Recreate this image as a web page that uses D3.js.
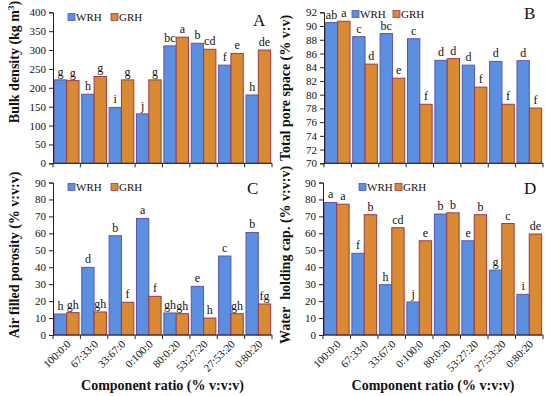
<!DOCTYPE html>
<html><head><meta charset="utf-8">
<script src="https://cdn.jsdelivr.net/npm/d3@7"></script>
<style>body{margin:0;background:#fff}svg{display:block}</style>
</head><body>
<script>
const categories = ["100:0:0","67:33:0","33:67:0","0:100:0","80:0:20","53:27:20","27:53:20","0:80:20"];
const seriesNames = ["WRH","GRH"];

const bulkWRH = [221,183,148,131,311,318,260,181];
const bulkGRH = [219,230,221,221,334,302,291,300];
const bulkLetWRH = ["g","h","i","j","bc","b","f","h"];
const bulkLetGRH = ["g","g","g","g","a","cd","e","de"];

const poreWRH = [90.5,88.45,88.9,88.15,85.0,84.3,84.85,84.95];
const poreGRH = [90.7,84.45,82.4,78.6,85.25,81.1,78.6,78.05];
const poreLetWRH = ["ab","c","bc","c","d","d","d","d"];
const poreLetGRH = ["a","d","e","f","d","f","f","f"];

const airWRH = [12.4,39.9,58.6,68.8,13.0,28.7,46.6,60.5];
const airGRH = [13.2,13.6,19.3,22.8,12.6,10.0,12.6,18.3];
const airLetWRH = ["h","d","b","a","gh","e","c","b"];
const airLetGRH = ["gh","gh","f","f","gh","h","gh","fg"];

const whcWRH = [78.2,48.2,29.7,19.5,71.4,55.6,38.3,24.0];
const whcGRH = [77.2,71.0,63.3,55.6,72.1,71.0,65.8,59.6];
const whcLetWRH = ["a","f","h","j","b","e","g","i"];
const whcLetGRH = ["a","b","cd","e","b","b","c","de"];

const bulkTicks = [0,50,100,150,200,250,300,350,400];
const poreTicks = [70,72,74,76,78,80,82,84,86,88,90,92];
const pctTicks = [0,10,20,30,40,50,60,70,80,90];

const FONT = "'Liberation Serif', 'DejaVu Serif', serif";
const colors = {WRH:{fill:"#5b8fe0",stroke:"#5a55b0"}, GRH:{fill:"#d98a32",stroke:"#9a3a4a"}};

const svg = d3.select("body").append("svg").attr("width",550).attr("height",396)
  .attr("font-family",FONT);

function panel(cfg){
  const {x0,x1,y0,y1,domain,ticks,wrh,grh,lw,lg,letter,letterPos,title,titleX,titleY,legendX,legendDX,legendY,showX} = cfg;
  const g = svg.append("g");
  const x = d3.scaleBand().domain(categories).range([x0,x1]).paddingInner(0.1).paddingOuter(0.05);
  const xs = d3.scaleBand().domain(seriesNames).range([0,x.bandwidth()]);
  const y = d3.scaleLinear().domain(domain).range([y1,y0]);

  const data = categories.map((c,i)=>({c, vals:[{s:"WRH",v:wrh[i],l:lw[i]},{s:"GRH",v:grh[i],l:lg[i]}]}));
  const grp = g.selectAll("g.grp").data(data).join("g").attr("transform",d=>`translate(${x(d.c)},0)`);
  grp.selectAll("rect").data(d=>d.vals).join("rect")
    .attr("x",d=>xs(d.s)).attr("width",xs.bandwidth())
    .attr("y",d=>y(d.v)).attr("height",d=>y(domain[0])-y(d.v))
    .attr("fill",d=>colors[d.s].fill).attr("stroke",d=>colors[d.s].stroke).attr("stroke-width",1);
  grp.selectAll("text").data(d=>d.vals).join("text")
    .attr("x",d=>xs(d.s)+xs.bandwidth()/2).attr("y",d=>y(d.v)-4)
    .attr("text-anchor","middle").attr("font-size",12).attr("fill","#111").text(d=>d.l);

  const ya = d3.axisLeft(y).tickValues(ticks).tickSize(4).tickPadding(3);
  const yg = g.append("g").attr("transform",`translate(${x0},0)`).call(ya);
  yg.attr("font-family",FONT);
  yg.select(".domain").attr("stroke","#222");
  yg.selectAll("line").attr("stroke","#222");
  yg.selectAll("text").attr("font-size",11).attr("fill","#111");

  g.append("line").attr("x1",x0).attr("x2",x1).attr("y1",y1).attr("y2",y1).attr("stroke","#222");
  const bounds = d3.range(categories.length+1).map(i=>x0 + (x1-x0)*i/categories.length);
  g.selectAll("line.bt").data(bounds).join("line").attr("class","bt")
    .attr("x1",d=>d).attr("x2",d=>d).attr("y1",y1).attr("y2",y1+4).attr("stroke","#222");

  if(showX){
    g.selectAll("text.xl").data(categories).join("text").attr("class","xl")
      .attr("transform",d=>`translate(${x(d)+x.bandwidth()/2+2},${y1+7}) rotate(-45)`)
      .attr("text-anchor","end").attr("dy","0.35em").attr("font-size",11).attr("fill","#111").text(d=>d);
    g.append("text").attr("x",(x0+x1)/2).attr("y",390).attr("text-anchor","middle")
      .attr("font-size",14).attr("font-weight","bold").attr("fill","#111").text("Component ratio (% v:v:v)");
  }

  g.append("text").attr("transform",`translate(${titleX},${titleY}) rotate(-90)`)
    .attr("text-anchor","middle").attr("dy","0.35em").attr("font-size",14).attr("font-weight","bold")
    .attr("fill","#111").html(title);

  seriesNames.forEach((s,i)=>{
    const lx = legendX + i*legendDX;
    g.append("rect").attr("x",lx).attr("y",legendY-3.5).attr("width",7).attr("height",7)
      .attr("fill",colors[s].fill).attr("stroke",colors[s].stroke).attr("stroke-width",0.8);
    g.append("text").attr("x",lx+8).attr("y",legendY).attr("dy","0.35em").attr("font-size",11).attr("fill","#111").text(s);
  });

  g.append("text").attr("x",letterPos[0]).attr("y",letterPos[1]).attr("font-size",17).attr("fill","#111").text(letter);
}

panel({x0:53,x1:272,y0:12.3,y1:163.3,domain:[0,400],ticks:bulkTicks,wrh:bulkWRH,grh:bulkGRH,lw:bulkLetWRH,lg:bulkLetGRH,
  letter:"A",letterPos:[253,26],title:'Bulk density (kg m<tspan baseline-shift="super" font-size="9">3</tspan>)',titleX:14,titleY:62,
  legendX:68,legendDX:43,legendY:17,showX:false});
panel({x0:324,x1:543,y0:12.3,y1:163.3,domain:[70,92],ticks:poreTicks,wrh:poreWRH,grh:poreGRH,lw:poreLetWRH,lg:poreLetGRH,
  letter:"B",letterPos:[524,19],title:"Total pore space (% v:v)",titleX:285,titleY:88,
  legendX:352,legendDX:41,legendY:14,showX:false});
panel({x0:53,x1:272,y0:182.5,y1:335,domain:[0,90],ticks:pctTicks,wrh:airWRH,grh:airGRH,lw:airLetWRH,lg:airLetGRH,
  letter:"C",letterPos:[247,194],title:"Air filled porosity (% v:v:v)",titleX:14,titleY:255,
  legendX:68,legendDX:43,legendY:187,showX:true});
panel({x0:323,x1:543,y0:182.5,y1:335,domain:[0,90],ticks:pctTicks,wrh:whcWRH,grh:whcGRH,lw:whcLetWRH,lg:whcLetGRH,
  letter:"D",letterPos:[524,194],title:"Water\u00a0 holding cap. (% v:v:v)",titleX:285,titleY:255,
  legendX:359,legendDX:36,legendY:187,showX:true});
</script>
</body></html>
